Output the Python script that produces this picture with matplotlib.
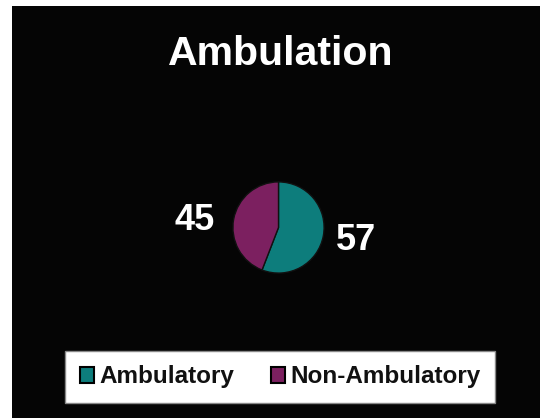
import matplotlib
matplotlib.use("Agg")
import matplotlib.pyplot as plt
from matplotlib.patches import Rectangle

categories = ["Ambulatory", "Non-Ambulatory"]
values = [57, 45]
colors = ["#0d7d7c", "#7c2060"]
title = "Ambulation"

W, H = 540, 418
fig = plt.figure(figsize=(W / 100, H / 100), dpi=100, facecolor="white")
plt.rcParams['font.family'] = ['Liberation Sans', 'DejaVu Sans']

# black chart area
fig.patches.append(Rectangle((12 / W, 0), 1 - 12 / W, (H - 6) / H,
                             transform=fig.transFigure, facecolor="#050505",
                             edgecolor="none", zorder=-5))

# pie axes (square in pixels)
cx, cy, r = 278.5, 227.5, 46.5
ax = fig.add_axes([(cx - r) / W, (H - cy - r) / H, 2 * r / W, 2 * r / H])
ax.set_zorder(3)
ax.patch.set_visible(False)
wedges, _ = ax.pie(values, colors=colors, startangle=90, counterclock=False,
                   radius=1, center=(0, 0), frame=False,
                   wedgeprops=dict(edgecolor="#111111", linewidth=1.0))
ax.set_xlim(-1.02, 1.02)
ax.set_ylim(-1.02, 1.02)
ax.axis("off")

# value labels
label_pos = [(356, 240), (195, 220)]
for v, (px, py) in zip(values, label_pos):
    fig.text(px / W, 1 - py / H, str(v), ha="center", va="center",
             color="white", fontsize=26, fontweight="bold", zorder=4)

fig.text(280.5 / W, 1 - 54 / H, title, ha="center", va="center",
         color="white", fontsize=29.5, fontweight="bold", zorder=4)

# legend
handles = [Rectangle((0, 0), 1, 1, facecolor=c, edgecolor="black", linewidth=1.5)
           for c in colors]
leg = fig.legend(handles, categories, loc="center", bbox_to_anchor=(280 / W, 1 - 377 / H),
                 ncol=2, frameon=True, fancybox=False, framealpha=1,
                 prop=dict(family=['Liberation Sans'], size=17.5, weight='bold'),
                 handlelength=0.6, handleheight=0.6, handletextpad=0.2,
                 columnspacing=1.5, borderpad=0.6, borderaxespad=0)
leg.set_zorder(5)
leg.get_frame().set_edgecolor("#888888")
leg.get_frame().set_linewidth(1.0)
leg.get_frame().set_facecolor("white")
for t in leg.get_texts():
    t.set_color("#111111")

fig.savefig("out.png", dpi=100, facecolor="white")
